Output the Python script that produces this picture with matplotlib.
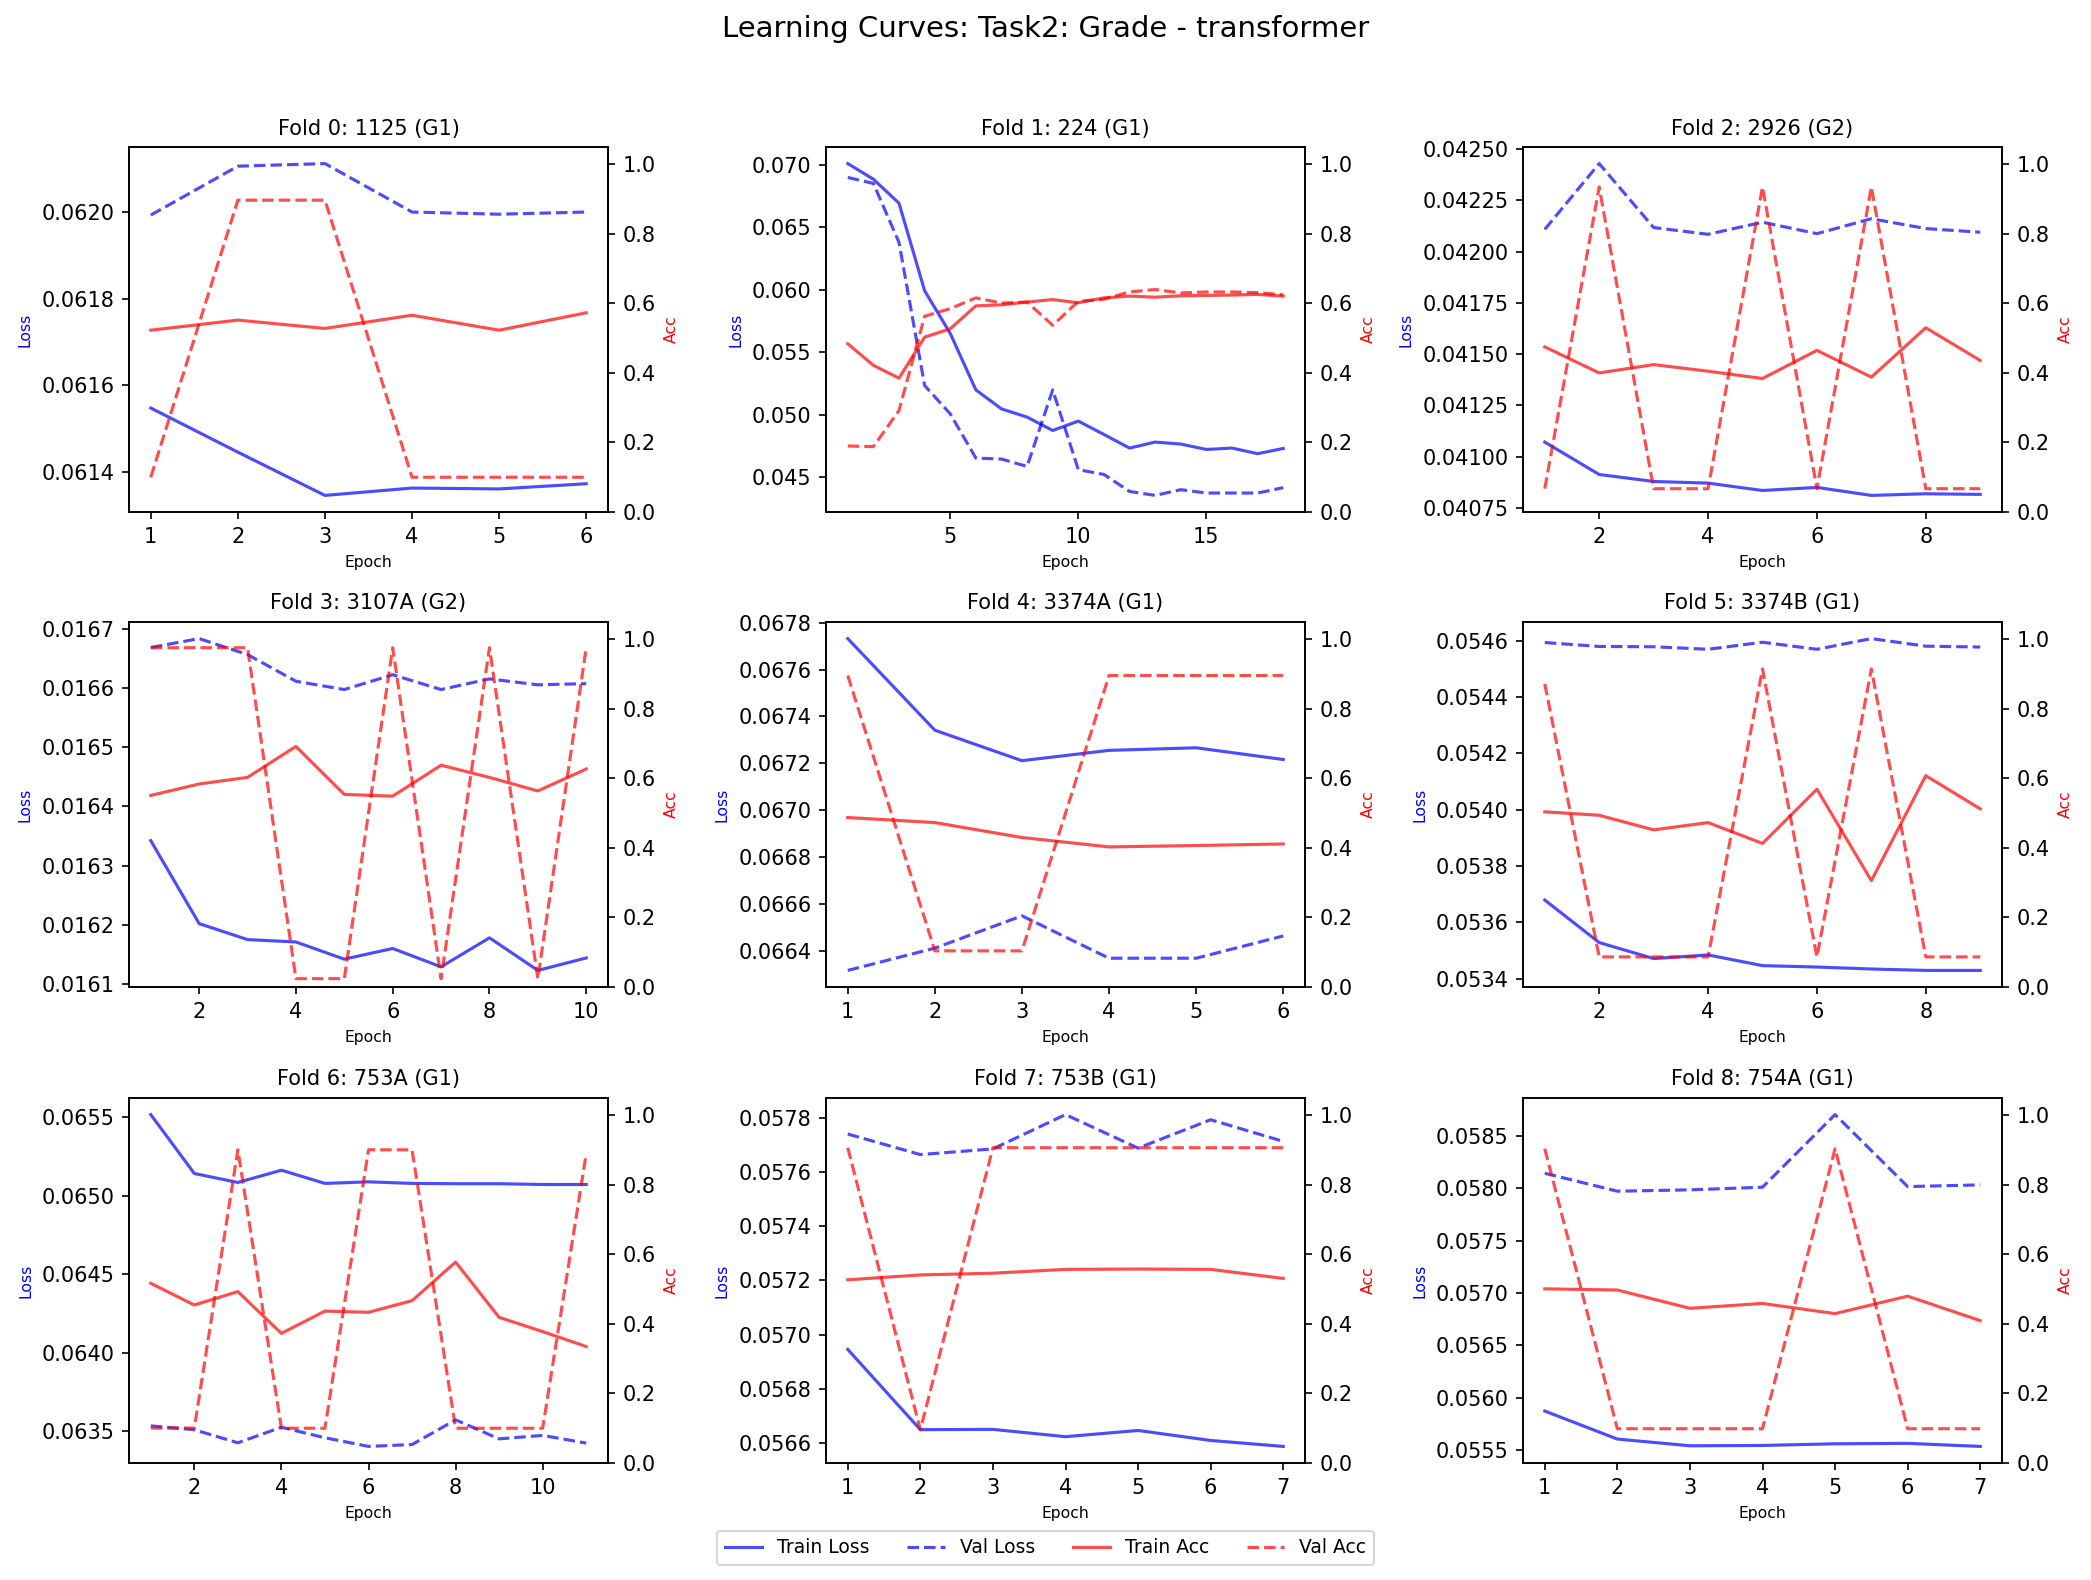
import matplotlib
matplotlib.use('Agg')
import matplotlib.pyplot as plt

fold_titles = ['Fold 0: 1125 (G1)', 'Fold 1: 224 (G1)', 'Fold 2: 2926 (G2)',
               'Fold 3: 3107A (G2)', 'Fold 4: 3374A (G1)', 'Fold 5: 3374B (G1)',
               'Fold 6: 753A (G1)', 'Fold 7: 753B (G1)', 'Fold 8: 754A (G1)']

train_loss = [
    [0.061547, 0.061445, 0.061345, 0.061362, 0.061360, 0.061372],
    [0.0701, 0.06885, 0.06693, 0.05992, 0.0565, 0.05198, 0.05046, 0.04980, 0.04873,
     0.04948, 0.04841, 0.04732, 0.04780, 0.04764, 0.04721, 0.04732, 0.04687, 0.04729],
    [0.041071, 0.040913, 0.040879, 0.040871, 0.040835, 0.040850, 0.040811, 0.040819, 0.040816],
    [0.016342, 0.016202, 0.016175, 0.016171, 0.016142, 0.016160, 0.016129, 0.016178, 0.016123, 0.016144],
    [0.067732, 0.067341, 0.067211, 0.067255, 0.067266, 0.067216],
    [0.053679, 0.053528, 0.053471, 0.053484, 0.053446, 0.053441, 0.053434, 0.053429, 0.053429],
    [0.065515, 0.065140, 0.065083, 0.065161, 0.065077, 0.065087, 0.065077, 0.065075, 0.065075, 0.065070, 0.065070],
    [0.056945, 0.056648, 0.056649, 0.056622, 0.056645, 0.056608, 0.056586],
    [0.055875, 0.055608, 0.055544, 0.055547, 0.055563, 0.055567, 0.055538],
]

val_loss = [
    [0.061993, 0.062106, 0.062112, 0.062000, 0.061995, 0.062000],
    [0.06899, 0.06851, 0.06379, 0.05233, 0.05006, 0.04652, 0.04644, 0.04585, 0.05198,
     0.04559, 0.04521, 0.04385, 0.04353, 0.04399, 0.04372, 0.04372, 0.04372, 0.04415],
    [0.042109, 0.042430, 0.042118, 0.042085, 0.042144, 0.042088, 0.042161, 0.042113, 0.042095],
    [0.016668, 0.016683, 0.016656, 0.016611, 0.016597, 0.016622, 0.016597, 0.016615, 0.016605, 0.016607],
    [0.066316, 0.066411, 0.066549, 0.066368, 0.066368, 0.066463],
    [0.054594, 0.054580, 0.054579, 0.054570, 0.054595, 0.054570, 0.054608, 0.054581, 0.054578],
    [0.063534, 0.063509, 0.063426, 0.063525, 0.063458, 0.063403, 0.063415, 0.063572, 0.063451, 0.063473, 0.063424],
    [0.057742, 0.057666, 0.057687, 0.057814, 0.057690, 0.057795, 0.057715],
    [0.058141, 0.057970, 0.057983, 0.058008, 0.058700, 0.058014, 0.058030],
]

train_acc = [
    [0.523, 0.552, 0.528, 0.566, 0.523, 0.573],
    [0.484, 0.422, 0.385, 0.503, 0.527, 0.593, 0.596, 0.604, 0.611,
     0.602, 0.616, 0.621, 0.618, 0.622, 0.623, 0.624, 0.626, 0.621],
    [0.475, 0.400, 0.424, 0.405, 0.384, 0.465, 0.388, 0.530, 0.436],
    [0.551, 0.584, 0.603, 0.692, 0.554, 0.549, 0.638, 0.603, 0.564, 0.627],
    [0.4875, 0.473, 0.430, 0.403, 0.407, 0.4115],
    [0.504, 0.494, 0.452, 0.473, 0.413, 0.569, 0.306, 0.608, 0.5125],
    [0.517, 0.4545, 0.493, 0.373, 0.437, 0.4335, 0.467, 0.578, 0.419, 0.378, 0.335],
    [0.527, 0.541, 0.546, 0.557, 0.558, 0.557, 0.531],
    [0.501, 0.4976, 0.445, 0.459, 0.4297, 0.480, 0.4096],
]

val_acc = [
    [0.100, 0.897, 0.897, 0.100, 0.100, 0.100],
    [0.190, 0.188, 0.292, 0.563, 0.585, 0.616, 0.601, 0.604, 0.537,
     0.606, 0.612, 0.633, 0.640, 0.630, 0.633, 0.633, 0.631, 0.625],
    [0.067, 0.935, 0.067, 0.067, 0.935, 0.067, 0.935, 0.067, 0.067],
    [0.976, 0.976, 0.976, 0.024, 0.024, 0.976, 0.024, 0.976, 0.024, 0.976],
    [0.896, 0.104, 0.104, 0.896, 0.896, 0.896],
    [0.872, 0.0865, 0.0865, 0.0865, 0.915, 0.0865, 0.915, 0.0865, 0.0865],
    [0.1005, 0.1005, 0.901, 0.1, 0.1, 0.901, 0.901, 0.1, 0.1, 0.1, 0.89],
    [0.907, 0.0957, 0.907, 0.907, 0.907, 0.907, 0.907],
    [0.904, 0.0986, 0.0986, 0.0986, 0.904, 0.0986, 0.0986],
]

W, H = 2091, 1580
fig = plt.figure(figsize=(W / 150, H / 150), dpi=150)

col_left = [129, 826, 1523]
row_bottom = [512, 987, 1463]
ax_w, ax_h = 479, 365

handles = None
for i in range(9):
    r, c = divmod(i, 3)
    ax = fig.add_axes([col_left[c] / W, 1 - row_bottom[r] / H, ax_w / W, ax_h / H])
    epochs = list(range(1, len(train_loss[i]) + 1))

    l1, = ax.plot(epochs, train_loss[i], 'b-', alpha=0.7, label='Train Loss')
    l2, = ax.plot(epochs, val_loss[i], 'b--', alpha=0.7, label='Val Loss')
    ax.set_xlabel('Epoch', fontsize=7.5)
    ax.set_ylabel('Loss', color='b', fontsize=7.5)
    ax.set_title(fold_titles[i], fontsize=10)

    ax2 = ax.twinx()
    l3, = ax2.plot(epochs, train_acc[i], 'r-', alpha=0.7, label='Train Acc')
    l4, = ax2.plot(epochs, val_acc[i], 'r--', alpha=0.7, label='Val Acc')
    ax2.set_ylabel('Acc', color='r', fontsize=7.5)
    ax2.set_ylim(0, 1.05)

    if handles is None:
        handles = [l1, l2, l3, l4]

fig.suptitle('Learning Curves: Task2: Grade - transformer', fontsize=14,
             y=1 - 36.7 / H, va='baseline')
fig.legend(handles, [h.get_label() for h in handles], loc='center', ncol=4,
           fontsize=9, bbox_to_anchor=(0.5, (H - 1547.7) / H))

fig.savefig('out.png', dpi=150)
